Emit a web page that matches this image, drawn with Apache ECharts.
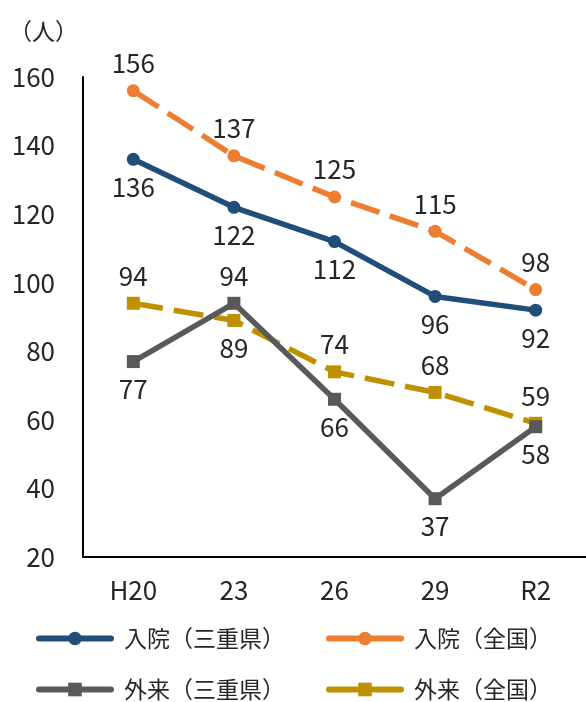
<!DOCTYPE html>
<html><head><meta charset="utf-8">
<script src="https://cdn.jsdelivr.net/npm/echarts@6/dist/echarts.min.js"></script>
<style>html,body{margin:0;padding:0;background:#fff}#c{width:586px;height:702px}</style>
</head><body><div id="c"></div>
<script>
const categories = ['H20', '23', '26', '29', 'R2'];
const seriesNames = ['入院（三重県）', '入院（全国）', '外来（三重県）', '外来（全国）'];
const nyuinMie = [136, 122, 112, 96, 92];
const nyuinZenkoku = [156, 137, 125, 115, 98];
const gairaiMie = [77, 94, 66, 37, 58];
const gairaiZenkoku = [94, 89, 74, 68, 59];
const yTicks = [20, 40, 60, 80, 100, 120, 140, 160];

const labelPos = [
  ['bottom','bottom','bottom','bottom','bottom'],
  ['top','top','top','top','top'],
  ['bottom','top','bottom','bottom','bottom'],
  ['top','bottom','top','top','top']
];
const colors = ['#1F4E79', '#ED7D31', '#595959', '#BF9000'];
const symbols = ['circle', 'circle', 'rect', 'rect'];
const dashed = [false, true, false, true];
const values = [nyuinMie, nyuinZenkoku, gairaiMie, gairaiZenkoku];
const FONT = '"Noto Sans CJK JP", "Noto Sans", sans-serif';
const TXT = '#262626';

const series = values.map((vals, i) => ({
  name: seriesNames[i],
  type: 'line',
  data: vals.map((v, j) => ({ value: v, label: { position: labelPos[i][j] } })),
  symbol: symbols[i],
  symbolSize: 13,
  lineStyle: { color: colors[i], width: 5.5, type: dashed[i] ? [30, 11] : 'solid', cap: dashed[i] ? 'butt' : 'round' },
  itemStyle: { color: colors[i] },
  label: { show: true, distance: 8, fontSize: 26, fontFamily: FONT, color: TXT },
  z: i === 3 ? 3 : (i === 2 ? 4 : 5),
  animation: false
}));

const legendPos = [[36, 627], [326, 627], [36, 678], [326, 678]];
const legends = seriesNames.map((n, i) => ({
  data: [n],
  left: legendPos[i][0], top: legendPos[i][1],
  padding: 0,
  itemWidth: 72, itemHeight: 17, itemGap: 0,
  lineStyle: { type: 'solid', width: 6, cap: 'round' },
  textStyle: { fontSize: 23, fontFamily: FONT, color: TXT, padding: [0, 0, 0, 8] }
}));

const chart = echarts.init(document.getElementById('c'));
chart.setOption({
  animation: false,
  backgroundColor: '#fff',
  title: { text: '（人）', left: 9, top: 20, padding: 0, textStyle: { fontSize: 23, fontWeight: 'normal', fontFamily: FONT, color: TXT } },
  legend: legends,
  grid: { left: 83, top: 77, right: -4, bottom: 145, containLabel: false },
  xAxis: {
    type: 'category', data: categories, boundaryGap: true,
    axisLine: { lineStyle: { color: '#000', width: 2 } },
    axisTick: { show: false },
    axisLabel: { fontSize: 26, fontFamily: FONT, color: TXT, margin: 20 }
  },
  yAxis: {
    type: 'value', min: yTicks[0], max: yTicks[yTicks.length - 1], interval: 20,
    axisLine: { show: true, lineStyle: { color: '#000', width: 2 } },
    axisTick: { show: false },
    splitLine: { show: false },
    axisLabel: { fontSize: 26, fontFamily: FONT, color: TXT, margin: 28 }
  },
  series
});
</script></body></html>
